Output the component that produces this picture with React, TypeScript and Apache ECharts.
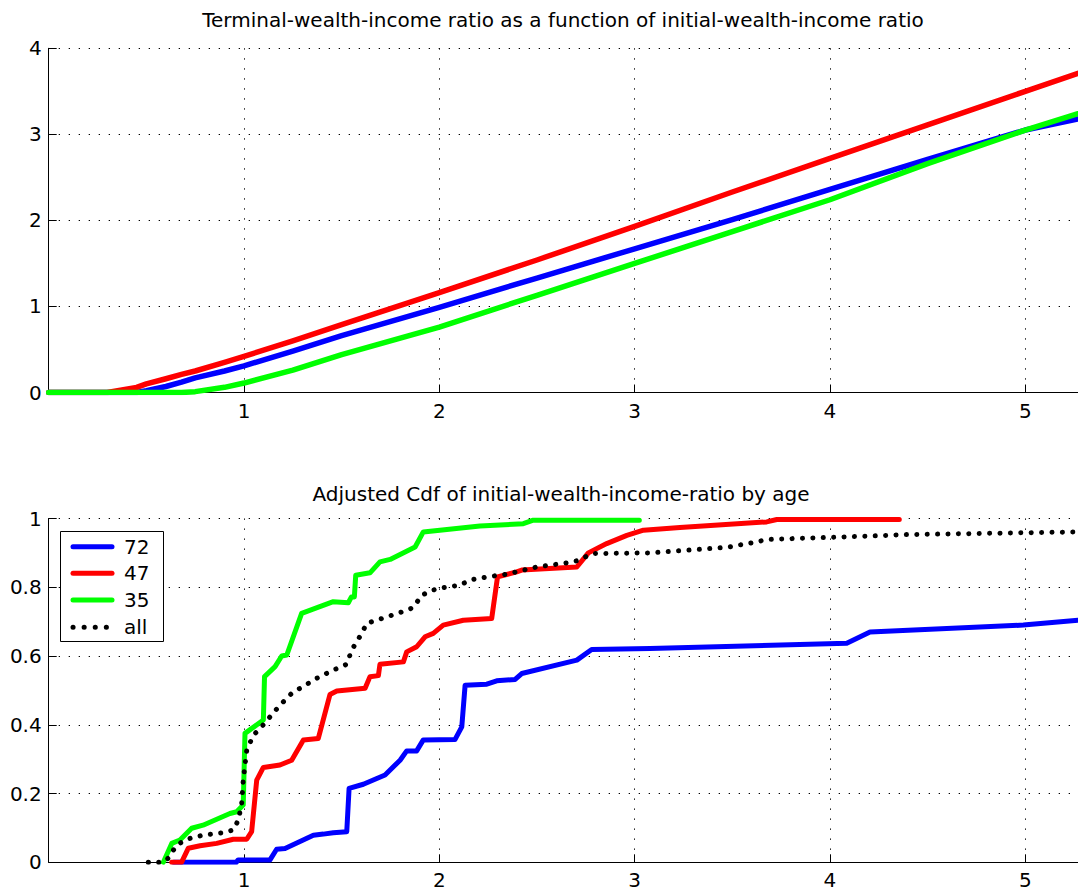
import React, { useEffect, useRef } from "react";
import * as echarts from "echarts";

const FONT = "'DejaVu Sans', 'Liberation Sans', Arial, sans-serif";
const FONT_SIZE = 20;

// ---------- shared axis ----------
const X_MAX = 5.27;
const X_INTERVAL = 1;

// ---------- top panel: terminal wealth-income ratio ----------
const TOP_TITLE = "Terminal-wealth-income ratio as a function of initial-wealth-income ratio";
const topX = [0, 0.3, 0.45, 0.5, 0.6, 0.68, 0.75, 0.9, 1, 1.25, 1.5, 2, 2.5, 3, 3.5, 4, 4.5, 5, 5.27];
const top72 = [0, 0, 0, 0.02, 0.07, 0.12, 0.17, 0.25, 0.31, 0.48, 0.66, 0.99, 1.33, 1.67, 2.01, 2.36, 2.71, 3.05, 3.18];
const top47 = [0, 0, 0.06, 0.1, 0.16, 0.21, 0.25, 0.35, 0.42, 0.6, 0.79, 1.16, 1.54, 1.93, 2.33, 2.72, 3.11, 3.5, 3.71];
const top35 = [0, 0, 0, 0, 0, 0, 0.01, 0.06, 0.11, 0.26, 0.44, 0.76, 1.13, 1.5, 1.87, 2.24, 2.66, 3.05, 3.24];

// ---------- bottom panel: adjusted CDF ----------
const BOTTOM_TITLE = "Adjusted Cdf of initial-wealth-income-ratio by age";
const legendNames = ["72", "47", "35", "all"];

const cdf72X = [0.64, 0.96, 0.97, 1.133, 1.167, 1.21, 1.355, 1.406, 1.457, 1.526, 1.538, 1.611, 1.722, 1.799, 1.833, 1.884, 1.918, 2.08, 2.115, 2.132, 2.243, 2.294, 2.388, 2.422, 2.704, 2.78, 3.079, 4.086, 4.205, 4.99, 5.27];
const cdf72Y = [0, 0, 0.007, 0.007, 0.038, 0.04, 0.079, 0.082, 0.086, 0.089, 0.215, 0.227, 0.254, 0.297, 0.324, 0.324, 0.356, 0.357, 0.394, 0.515, 0.518, 0.528, 0.532, 0.549, 0.588, 0.619, 0.622, 0.637, 0.67, 0.69, 0.704];

const cdf47X = [0.63, 0.68, 0.715, 0.775, 0.86, 0.945, 1.014, 1.039, 1.065, 1.099, 1.184, 1.244, 1.304, 1.38, 1.44, 1.475, 1.62, 1.645, 1.688, 1.696, 1.816, 1.833, 1.884, 1.927, 1.969, 2.02, 2.123, 2.268, 2.298, 2.396, 2.422, 2.704, 2.763, 2.857, 2.96, 3.045, 3.232, 3.676, 3.728, 4.355];
const cdf47Y = [0, 0, 0.041, 0.048, 0.055, 0.067, 0.067, 0.089, 0.239, 0.276, 0.283, 0.297, 0.356, 0.36, 0.488, 0.498, 0.506, 0.54, 0.543, 0.576, 0.583, 0.612, 0.627, 0.656, 0.666, 0.69, 0.704, 0.709, 0.83, 0.845, 0.85, 0.859, 0.9, 0.927, 0.951, 0.966, 0.974, 0.99, 0.997, 0.997];

const cdf35X = [0.587, 0.63, 0.672, 0.732, 0.79, 0.928, 0.963, 0.996, 1.005, 1.099, 1.105, 1.159, 1.193, 1.219, 1.295, 1.457, 1.534, 1.55, 1.565, 1.572, 1.645, 1.696, 1.748, 1.876, 1.918, 2.208, 2.43, 2.481, 3.024];
const cdf35Y = [0, 0.055, 0.065, 0.099, 0.108, 0.142, 0.147, 0.167, 0.375, 0.414, 0.54, 0.569, 0.6, 0.603, 0.724, 0.758, 0.755, 0.772, 0.772, 0.835, 0.842, 0.874, 0.881, 0.917, 0.961, 0.978, 0.985, 0.995, 0.995];

const cdfAllX = [0.51, 0.587, 0.612, 0.655, 0.707, 0.79, 0.894, 0.945, 0.971, 0.988, 0.996, 1.014, 1.048, 1.09, 1.133, 1.184, 1.252, 1.287, 1.372, 1.457, 1.526, 1.551, 1.603, 1.628, 1.722, 1.807, 1.867, 1.91, 1.969, 2.02, 2.106, 2.157, 2.243, 2.345, 2.396, 2.499, 2.652, 2.704, 2.746, 2.789, 3.079, 3.472, 3.625, 3.676, 4.205, 4.376, 5.27];
const cdfAllY = [0, 0, 0.012, 0.05, 0.067, 0.079, 0.086, 0.094, 0.123, 0.171, 0.239, 0.326, 0.37, 0.394, 0.423, 0.457, 0.496, 0.506, 0.535, 0.559, 0.576, 0.617, 0.666, 0.695, 0.712, 0.728, 0.741, 0.777, 0.792, 0.799, 0.806, 0.821, 0.83, 0.838, 0.845, 0.859, 0.871, 0.877, 0.888, 0.898, 0.9, 0.916, 0.932, 0.939, 0.949, 0.953, 0.961];

const COLORS = { c72: "#0000ff", c47: "#ff0000", c35: "#00ff00", all: "#000000" };

const zip = (xs: number[], ys: number[]) => xs.map((x, i) => [x, ys[i]]);

const GRID_DASH = [1.3, 8.7];
const DOT_DASH = [0.1, 10.3];

function xAxis(gridIndex: number) {
  return {
    type: "value",
    gridIndex,
    min: 0,
    max: X_MAX,
    interval: X_INTERVAL,
    axisLine: { onZero: false, lineStyle: { color: "#000", width: 1 } },
    axisTick: { inside: true, length: 8, lineStyle: { color: "#000", width: 1 } },
    axisLabel: {
      color: "#000",
      fontSize: FONT_SIZE,
      fontFamily: FONT,
      margin: 8,
      showMinLabel: false,
      showMaxLabel: false,
      formatter: (v: number) => (Math.abs(v - Math.round(v)) < 1e-6 && v > 0 ? String(Math.round(v)) : ""),
    },
    splitLine: {
      show: true,
      showMinLine: false,
      showMaxLine: false,
      lineStyle: { color: "#000", width: 1, type: GRID_DASH },
    },
  };
}

function yAxis(gridIndex: number, max: number, interval: number, fmt: (v: number) => string) {
  return {
    type: "value",
    gridIndex,
    min: 0,
    max,
    interval,
    axisLine: { show: true, onZero: false, lineStyle: { color: "#000", width: 1 } },
    axisTick: { show: true, inside: true, length: 8, lineStyle: { color: "#000", width: 1 } },
    axisLabel: { color: "#000", fontSize: FONT_SIZE, fontFamily: FONT, margin: 7, formatter: fmt },
    splitLine: {
      show: true,
      showMinLine: false,
      lineStyle: { color: "#000", width: 1, type: GRID_DASH },
    },
  };
}

function solid(name: string, color: string, data: number[][], x: number, y: number, width: number) {
  return {
    name,
    type: "line",
    xAxisIndex: x,
    yAxisIndex: y,
    data,
    showSymbol: false,
    symbol: "none",
    clip: true,
    lineStyle: { color, width, cap: "round", join: "round" },
    itemStyle: { color },
  };
}

export default function App() {
  const ref = useRef<HTMLDivElement>(null);
  useEffect(() => {
    document.body.style.margin = "0";
    const chart = echarts.init(ref.current!, null, { renderer: "svg" });

    const legendRows = [546.7, 573.3, 600, 627.3];
    const legendColors = [COLORS.c72, COLORS.c47, COLORS.c35, COLORS.all];

    const legendGraphics: any[] = [
      {
        type: "rect",
        shape: { x: 60.5, y: 531.5, width: 103, height: 110 },
        style: { fill: "#fff", stroke: "#000", lineWidth: 1 },
        z: 100,
      },
    ];
    legendNames.forEach((n, i) => {
      const dotted = n === "all";
      legendGraphics.push({
        type: "line",
        shape: { x1: 73, y1: legendRows[i], x2: 112, y2: legendRows[i] },
        style: dotted
          ? { stroke: legendColors[i], lineWidth: 5, lineDash: [0.1, 11], lineCap: "round" }
          : { stroke: legendColors[i], lineWidth: 5, lineCap: "round" },
        z: 101,
      });
      legendGraphics.push({
        type: "text",
        x: 124,
        y: legendRows[i],
        style: {
          text: n,
          fill: "#000",
          fontSize: FONT_SIZE,
          fontFamily: FONT,
          align: "left",
          verticalAlign: "middle",
        },
        z: 101,
      });
    });

    const option: any = {
      animation: false,
      backgroundColor: "#fff",
      grid: [
        { left: 48.7, top: 48.3, width: 1029.3, height: 344.2, containLabel: false },
        { left: 48.7, top: 518.5, width: 1029.3, height: 343.8, containLabel: false },
      ],
      xAxis: [xAxis(0), xAxis(1)],
      yAxis: [
        yAxis(0, 4, 1, (v: number) => String(Math.round(v))),
        yAxis(1, 1, 0.2, (v: number) => (v === 0 ? "0" : Math.abs(v - 1) < 1e-9 ? "1" : v.toFixed(1))),
      ],
      graphic: [
        {
          type: "text",
          x: 563,
          y: 20,
          style: {
            text: TOP_TITLE,
            fill: "#000",
            fontSize: FONT_SIZE,
            fontFamily: FONT,
            align: "center",
            verticalAlign: "middle",
          },
        },
        {
          type: "text",
          x: 561,
          y: 494,
          style: {
            text: BOTTOM_TITLE,
            fill: "#000",
            fontSize: FONT_SIZE,
            fontFamily: FONT,
            align: "center",
            verticalAlign: "middle",
          },
        },
        ...legendGraphics,
      ],
      series: [
        solid("72", COLORS.c72, zip(topX, top72), 0, 0, 5.5),
        solid("47", COLORS.c47, zip(topX, top47), 0, 0, 5.5),
        solid("35", COLORS.c35, zip(topX, top35), 0, 0, 5.5),
        solid("72", COLORS.c72, zip(cdf72X, cdf72Y), 1, 1, 5),
        solid("47", COLORS.c47, zip(cdf47X, cdf47Y), 1, 1, 5),
        solid("35", COLORS.c35, zip(cdf35X, cdf35Y), 1, 1, 5),
        {
          name: "all",
          type: "line",
          xAxisIndex: 1,
          yAxisIndex: 1,
          data: zip(cdfAllX, cdfAllY),
          showSymbol: false,
          symbol: "none",
          lineStyle: { color: COLORS.all, width: 5, type: DOT_DASH, cap: "round", join: "round" },
          itemStyle: { color: COLORS.all },
        },
      ],
    };
    chart.setOption(option);
    return () => chart.dispose();
  }, []);
  return <div ref={ref} style={{ width: 1078, height: 892 }} />;
}
